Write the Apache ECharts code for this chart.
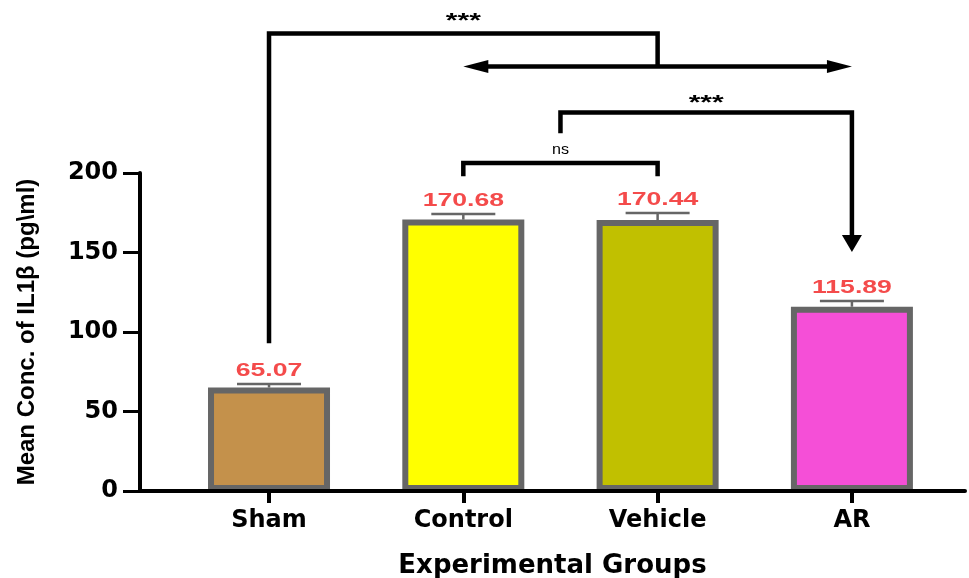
<!DOCTYPE html>
<html>
<head>
<meta charset="utf-8">
<script src="https://cdn.jsdelivr.net/npm/echarts@6/dist/echarts.min.js"></script>
<style>
  html, body { margin: 0; padding: 0; background: #fff; }
  #chart { width: 969px; height: 578px; }
</style>
</head>
<body>
<div id="chart"></div>
<script>
// 数据
var groups = ['Sham', 'Control', 'Vehicle', 'AR'];
var means = [65.07, 170.68, 170.44, 115.89];
var errors = [2.2, 3.5, 4.4, 3.6];
var barColors = ['#c4914b', '#ffff00', '#c1c000', '#f54fd7'];
var yTicks = [0, 50, 100, 150, 200];

// 显著性标注：折线点 [组序号, 数值]
var brackets = [
  { path: [[0, 93], [0, 287.7], [2, 287.7], [2, 266.7]], arrow: 'none' },
  { path: [[1, 267], [3, 267]], arrow: 'both' },
  { path: [[1.5, 225], [1.5, 238], [3, 238], [3, 150.3]], arrow: 'end' },
  { path: [[1, 198], [1, 206.3], [2, 206.3], [2, 198]], arrow: 'none' }
];
var sigText = ['***', '***', 'ns'];
var sigX = [1, 2.25, 1.5];
var sigY = [295, 244, 214.5];

var chart = echarts.init(document.getElementById('chart'));

// 误差线 + 数值
function renderError(params, api) {
  var x = api.value(0), m = api.value(1), e = api.value(2);
  var top = api.coord([x, m + e]);
  var base = api.coord([x, m]);
  var lineStyle = { stroke: '#666666', lineWidth: 2.5 };
  return {
    type: 'group',
    children: [
      { type: 'line', shape: { x1: top[0], y1: base[1], x2: top[0], y2: top[1] }, style: lineStyle },
      { type: 'line', shape: { x1: top[0] - 32, y1: top[1], x2: top[0] + 32, y2: top[1] }, style: lineStyle },
      {
        type: 'text', x: top[0], y: top[1] - 4, scaleX: 1.4,
        style: {
          text: m.toFixed(2), fill: '#f44b4b', fontFamily: '"Liberation Sans", Arial, sans-serif',
          fontWeight: 'bold', fontSize: 19, align: 'center', verticalAlign: 'bottom'
        }
      }
    ]
  };
}

// 括号和箭头
function renderBracket(params, api) {
  var b = brackets[params.dataIndex];
  var pts = b.path.map(function (p) { return api.coord(p); });
  var heads = [];
  var children = [];
  if (b.arrow === 'end' || b.arrow === 'both') heads.push([pts.length - 1, pts.length - 2]);
  if (b.arrow === 'both') heads.push([0, 1]);
  heads.forEach(function (h) {
    var tip = pts[h[0]], from = pts[h[1]];
    var dx = tip[0] - from[0], dy = tip[1] - from[1];
    var d = Math.sqrt(dx * dx + dy * dy);
    dx /= d; dy /= d;
    var horiz = Math.abs(dx) > Math.abs(dy);
    var len = horiz ? 25 : 17, w = horiz ? 13 : 20;
    var bx = tip[0] - dx * len, by = tip[1] - dy * len;
    children.push({
      type: 'polygon',
      shape: { points: [tip, [bx - dy * w / 2, by + dx * w / 2], [bx + dy * w / 2, by - dx * w / 2]] },
      style: { fill: '#000' }
    });
    pts[h[0]] = [bx + dx, by + dy];
  });
  children.unshift({
    type: 'polyline', shape: { points: pts },
    style: { stroke: '#000', lineWidth: 4.5, fill: null, lineJoin: 'miter', lineCap: 'butt' }
  });
  return { type: 'group', children: children };
}

function renderSig(params, api) {
  var i = params.dataIndex;
  var p = api.coord([sigX[i], sigY[i]]);
  var star = sigText[i] === '***';
  return {
    type: 'text', x: p[0], y: p[1], scaleX: star ? 1.5 : 1.15,
    style: {
      text: sigText[i], fill: '#000', fontFamily: '"Liberation Sans", Arial, sans-serif',
      fontWeight: star ? 'bold' : 'normal',
      fontSize: star ? 20 : 14, align: 'center', verticalAlign: 'middle'
    }
  };
}

var option = {
  animation: false,
  grid: { left: 140, right: 4, top: 173, bottom: 87, outerBoundsMode: 'none' },
  xAxis: {
    type: 'value',
    min: -0.664,
    max: 3.582,
    z: 5,
    splitLine: { show: false },
    axisLine: { lineStyle: { color: '#000', width: 4 } },
    axisTick: { customValues: [0, 1, 2, 3], length: 12, lineStyle: { color: '#000', width: 4 } },
    axisLabel: {
      customValues: [0, 1, 2, 3],
      formatter: function (v) { return groups[Math.round(v)]; },
      margin: 18, color: '#000', fontFamily: '"DejaVu Sans", sans-serif', fontWeight: 'bold', fontSize: 24
    },
    name: 'Experimental Groups',
    nameLocation: 'middle',
    nameGap: 62,
    nameTextStyle: { color: '#000', fontFamily: '"DejaVu Sans", sans-serif', fontWeight: 'bold', fontSize: 26 }
  },
  yAxis: {
    type: 'value',
    min: 0,
    max: 200,
    interval: 50,
    splitLine: { show: false },
    axisLine: { show: true, onZero: false, lineStyle: { color: '#000', width: 4 } },
    axisTick: { show: true, length: 17, lineStyle: { color: '#000', width: 3 } },
    axisLabel: {
      customValues: yTicks,
      margin: 22, color: '#000', fontFamily: '"DejaVu Sans", sans-serif', fontWeight: 'bold', fontSize: 24
    },
    name: 'Mean Conc. of IL1\u03b2 (pg\\ml)',
    nameLocation: 'middle',
    nameGap: 101,
    nameTextStyle: { color: '#000', fontFamily: '"Liberation Sans Narrow", "Liberation Sans", sans-serif', fontWeight: 'bold', fontSize: 24 }
  },
  series: [
    {
      type: 'bar',
      barWidth: 122,
      data: means.map(function (v, i) {
        return { value: [i, v], itemStyle: { color: barColors[i] } };
      }),
      itemStyle: { borderColor: '#666666', borderWidth: 6 }
    },
    {
      type: 'custom',
      z: 3,
      renderItem: renderError,
      encode: { x: 0, y: 1 },
      data: means.map(function (v, i) { return [i, v, errors[i]]; })
    },
    {
      type: 'custom',
      z: 4,
      renderItem: renderBracket,
      encode: { x: 0, y: 1 },
      data: brackets.map(function (b) { return b.path[0]; })
    },
    {
      type: 'custom',
      z: 4,
      renderItem: renderSig,
      encode: { x: 0, y: 1 },
      data: sigX.map(function (x, i) { return [x, sigY[i]]; })
    }
  ]
};

chart.setOption(option);
</script>
</body>
</html>
